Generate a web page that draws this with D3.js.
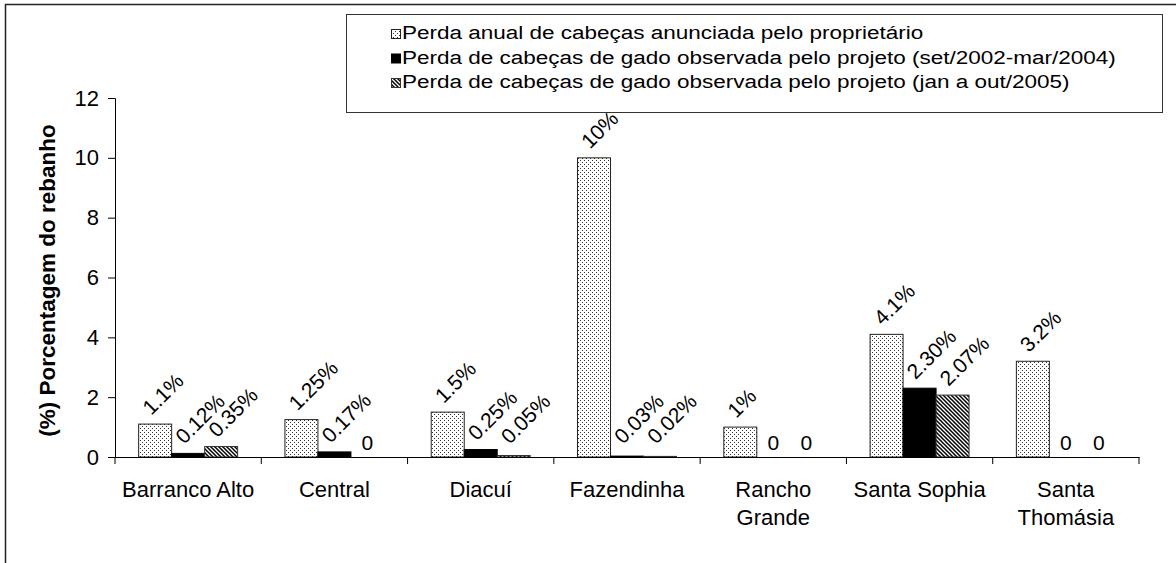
<!DOCTYPE html>
<html>
<head>
<meta charset="utf-8">
<script src="https://cdn.jsdelivr.net/npm/d3@7"></script>
<style>
  body { margin: 0; background: #fff; }
  svg { display: block; font-family: "Liberation Sans", Arial, sans-serif; }
</style>
</head>
<body>
<svg id="chart" width="1176" height="563"></svg>
<script>
// categories (line breaks as in the original axis)
const categories = ['Barranco Alto', 'Central', 'Diacuí', 'Fazendinha', 'Rancho\nGrande', 'Santa Sophia', 'Santa\nThomásia'];

const seriesNames = [
  'Perda anual de cabeças anunciada pelo proprietário',
  'Perda de cabeças de gado observada pelo projeto (set/2002-mar/2004)',
  'Perda de cabeças de gado observada pelo projeto (jan a out/2005)'
];

const anunciada = [1.1, 1.25, 1.5, 10, 1, 4.1, 3.2];
const observada2002 = [0.12, 0.17, 0.25, 0.03, 0, 2.30, 0];
const observada2005 = [0.35, 0, 0.05, 0.02, 0, 2.07, 0];

const anunciadaLabels = ['1.1%', '1.25%', '1.5%', '10%', '1%', '4.1%', '3.2%'];
const observada2002Labels = ['0.12%', '0.17%', '0.25%', '0.03%', '0', '2.30%', '0'];
const observada2005Labels = ['0.35%', '0', '0.05%', '0.02%', '0', '2.07%', '0'];

const yTicks = [0, 2, 4, 6, 8, 10, 12];

const series = [
  {name: seriesNames[0], values: anunciada, labels: anunciadaLabels, fill: 'url(#dots)', stroke: '#222'},
  {name: seriesNames[1], values: observada2002, labels: observada2002Labels, fill: '#000', stroke: '#000'},
  {name: seriesNames[2], values: observada2005, labels: observada2005Labels, fill: 'url(#hatch)', stroke: '#333'}
];

const svg = d3.select('#chart');
const margin = {left: 115, right: 37, top: 98, bottom: 106};
const W = 1176, H = 563;

// patterns
const defs = svg.append('defs');
const dots = defs.append('pattern')
  .attr('id', 'dots')
  .attr('patternUnits', 'userSpaceOnUse')
  .attr('width', 4).attr('height', 4);
dots.append('rect').attr('width', 4).attr('height', 4).attr('fill', '#fff');
dots.append('rect').attr('x', 0).attr('y', 0).attr('width', 1).attr('height', 1).attr('fill', '#333');
dots.append('rect').attr('x', 2).attr('y', 2).attr('width', 1).attr('height', 1).attr('fill', '#333');

const hatch = defs.append('pattern')
  .attr('id', 'hatch')
  .attr('patternUnits', 'userSpaceOnUse')
  .attr('width', 4).attr('height', 4);
hatch.append('rect').attr('width', 4).attr('height', 4).attr('fill', '#fff');
hatch.append('path')
  .attr('d', 'M-1,-1L5,5M-1,3L1,5M3,-1L5,1')
  .attr('stroke', '#000')
  .attr('stroke-width', 1.5);

// outer chart frame (right and bottom edges fall outside the picture)
svg.append('rect')
  .attr('x', 5.5).attr('y', 4.5)
  .attr('width', 1300).attr('height', 700)
  .attr('fill', 'none')
  .attr('stroke', '#222')
  .attr('stroke-width', 1.5);

const x = d3.scaleBand()
  .domain(categories)
  .range([margin.left, W - margin.right])
  .padding(0);

const xSub = d3.scaleBand()
  .domain(d3.range(series.length))
  .range([0, x.bandwidth()])
  .paddingInner(0)
  .paddingOuter(0.717);

const y = d3.scaleLinear()
  .domain([0, 12])
  .range([H - margin.bottom, margin.top]);

// bars
const groups = svg.append('g').attr('class', 'bars')
  .selectAll('g')
  .data(series)
  .join('g');

groups.selectAll('rect')
  .data((s, si) => s.values.map((v, i) => ({v: v, i: i, si: si, s: s})))
  .join('rect')
  .filter(d => d.v > 0)
  .attr('x', d => x(categories[d.i]) + xSub(d.si))
  .attr('y', d => y(d.v))
  .attr('width', xSub.bandwidth())
  .attr('height', d => y(0) - y(d.v))
  .attr('fill', d => d.s.fill)
  .attr('stroke', d => d.s.stroke)
  .attr('stroke-width', 1);

// axes
const yAxis = d3.axisLeft(y)
  .tickValues(yTicks)
  .tickSize(7)
  .tickPadding(9);

const gy = svg.append('g')
  .attr('transform', `translate(${margin.left},0)`)
  .call(yAxis);
gy.selectAll('text').style('font-size', '22px').attr('fill', '#000');
gy.selectAll('line, path').attr('stroke', '#000');

const xAxis = d3.axisBottom(x).tickSize(0).tickSizeOuter(0);
const gx = svg.append('g')
  .attr('transform', `translate(0,${y(0)})`)
  .call(xAxis);
gx.select('.domain').attr('stroke', '#000').attr('stroke-width', 1.2);
gx.selectAll('.tick text')
  .style('font-size', '22px')
  .attr('fill', '#000')
  .attr('y', 40)
  .attr('dy', null)
  .each(function(d) {
    const t = d3.select(this);
    const lines = d.split('\n');
    t.text(null);
    lines.forEach((l, k) => {
      t.append('tspan').attr('x', 0).attr('dy', k === 0 ? 0 : 28).text(l);
    });
  });

// category boundary ticks
const bounds = categories.map(c => x(c)).concat([x.range()[1]]);
svg.append('g').selectAll('line')
  .data(bounds)
  .join('line')
  .attr('x1', d => d).attr('x2', d => d)
  .attr('y1', y(0)).attr('y2', y(0) + 7)
  .attr('stroke', '#000');

// data labels
const labelData = [];
series.forEach((s, si) => s.values.forEach((v, i) => labelData.push({v: v, i: i, si: si, text: s.labels[i]})));

const cx = d => x(categories[d.i]) + xSub(d.si) + xSub.bandwidth() / 2;

svg.append('g').selectAll('text')
  .data(labelData)
  .join('text')
  .style('font-size', '21px')
  .attr('fill', '#000')
  .each(function(d) {
    const t = d3.select(this).text(d.text);
    if (d.v === 0) {
      t.attr('text-anchor', 'middle')
        .attr('x', cx(d))
        .attr('y', y(0) - 7);
    } else {
      const ly = Math.min(y(d.v) - 8, y(0) - 12);
      t.attr('text-anchor', 'start')
        .attr('transform', `translate(${cx(d) - 4},${ly}) rotate(-45)`);
    }
  });

// y title
svg.append('text')
  .attr('transform', `translate(55,${(y(0) + y(12)) / 2 + 3}) rotate(-90)`)
  .attr('text-anchor', 'middle')
  .style('font-size', '22.5px')
  .style('font-weight', 'bold')
  .attr('fill', '#000')
  .text('(%) Porcentagem do rebanho');

// legend
const legend = svg.append('g').attr('class', 'legend');
legend.append('rect')
  .attr('x', 346.5).attr('y', 14.5)
  .attr('width', 816).attr('height', 98)
  .attr('fill', '#fff')
  .attr('stroke', '#333')
  .attr('stroke-width', 1);

const rows = legend.selectAll('g.row')
  .data(series)
  .join('g')
  .attr('class', 'row')
  .attr('transform', (d, i) => `translate(391,${39 + i * 24.5})`);

rows.append('rect')
  .attr('x', 0.5).attr('y', -9.5)
  .attr('width', 9).attr('height', 9)
  .attr('fill', d => d.fill)
  .attr('stroke', d => d.stroke);

// legend text in the original is drawn noticeably wider than plain Arial
rows.append('text')
  .attr('transform', 'translate(11,0) scale(1.25,1)')
  .style('font-size', '18px')
  .attr('fill', '#000')
  .text(d => d.name);
</script>
</body>
</html>
